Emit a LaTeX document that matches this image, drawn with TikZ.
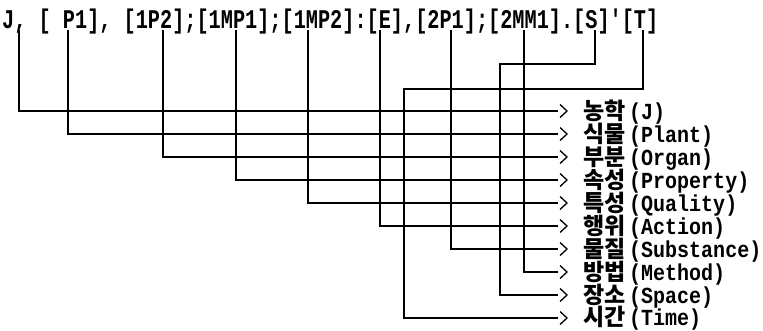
\documentclass[tikz,border=0pt]{standalone}
\usepackage{fontspec}
\newfontfamily\tfont{Liberation Mono}[FakeStretch=0.75]
\newfontfamily\lfont{Liberation Mono}[FakeStretch=0.87]
\newfontfamily\kfont{Noto Sans CJK KR}
\tikzset{
  conn/.style={draw=black, line width=1.4pt},
  chev/.style={draw=black, line width=1.3pt},
  toptext/.style={anchor=base west, inner sep=0pt, font=\tfont\bfseries\fontsize{27}{27}\selectfont},
  lbl/.style={anchor=base west, inner sep=0pt, font=\lfont\bfseries\fontsize{23}{23}\selectfont}
}
\newcommand{\kor}[1]{\makebox[46pt][l]{\kfont\bfseries\fontsize{23}{23}\selectfont #1}}
\begin{document}
\begin{tikzpicture}[x=1pt,y=-1pt]
\useasboundingbox (0,0) rectangle (763,330);
\fill[white] (0,0) rectangle (763,330);
\node[toptext] (top) at (2,28) {J, [ P1], [1P2];[1MP1];[1MP2]:[E],[2P1];[2MM1].[S]'[T]};
% top coordinates under the codes
\coordinate (tJ) at (19,30);
\coordinate (tP) at (68,30);
\coordinate (tO) at (163,30);
\coordinate (tPr) at (236,30);
\coordinate (tQ) at (308,30);
\coordinate (tA) at (380,30);
\coordinate (tSu) at (451,30);
\coordinate (tM) at (524,30);
\coordinate (tS) at (595,30);
\coordinate (tT) at (643,30);
\coordinate (jS) at (500,64);
\coordinate (jT) at (404,89);
% end coordinates
\coordinate (eJ) at (558,111);
\coordinate (eP) at (558,134);
\coordinate (eO) at (558,157);
\coordinate (ePr) at (558,180);
\coordinate (eQ) at (558,203);
\coordinate (eA) at (558,226);
\coordinate (eSu) at (558,249);
\coordinate (eM) at (558,272);
\coordinate (eS) at (558,295);
\coordinate (eT) at (558,318);
% connectors
\draw[conn] (tJ) |- (eJ);
\draw[conn] (tP) |- (eP);
\draw[conn] (tO) |- (eO);
\draw[conn] (tPr) |- (ePr);
\draw[conn] (tQ) |- (eQ);
\draw[conn] (tA) |- (eA);
\draw[conn] (tSu) |- (eSu);
\draw[conn] (tM) |- (eM);
\draw[conn] (tS) |- (jS) |- (eS);
\draw[conn] (tT) |- (jT) |- (eT);
% chevrons
\foreach \e in {eJ,eP,eO,ePr,eQ,eA,eSu,eM,eS,eT}{
  \draw[chev] ([shift={(2,-6.5)}]\e) -- ++(7,6.5) -- ++(-7,6.5);
}
% labels
\node[lbl] (lJ) at (583,119) {\kor{농학}(J)};
\node[lbl] (lP) at (583,142) {\kor{식물}(Plant)};
\node[lbl] (lO) at (583,165) {\kor{부분}(Organ)};
\node[lbl] (lPr) at (583,188) {\kor{속성}(Property)};
\node[lbl] (lQ) at (583,211) {\kor{특성}(Quality)};
\node[lbl] (lA) at (583,234) {\kor{행위}(Action)};
\node[lbl] (lSu) at (583,257) {\kor{물질}(Substance)};
\node[lbl] (lM) at (583,280) {\kor{방법}(Method)};
\node[lbl] (lS) at (583,303) {\kor{장소}(Space)};
\node[lbl] (lT) at (583,325) {\kor{시간}(Time)};
\end{tikzpicture}
\end{document}
